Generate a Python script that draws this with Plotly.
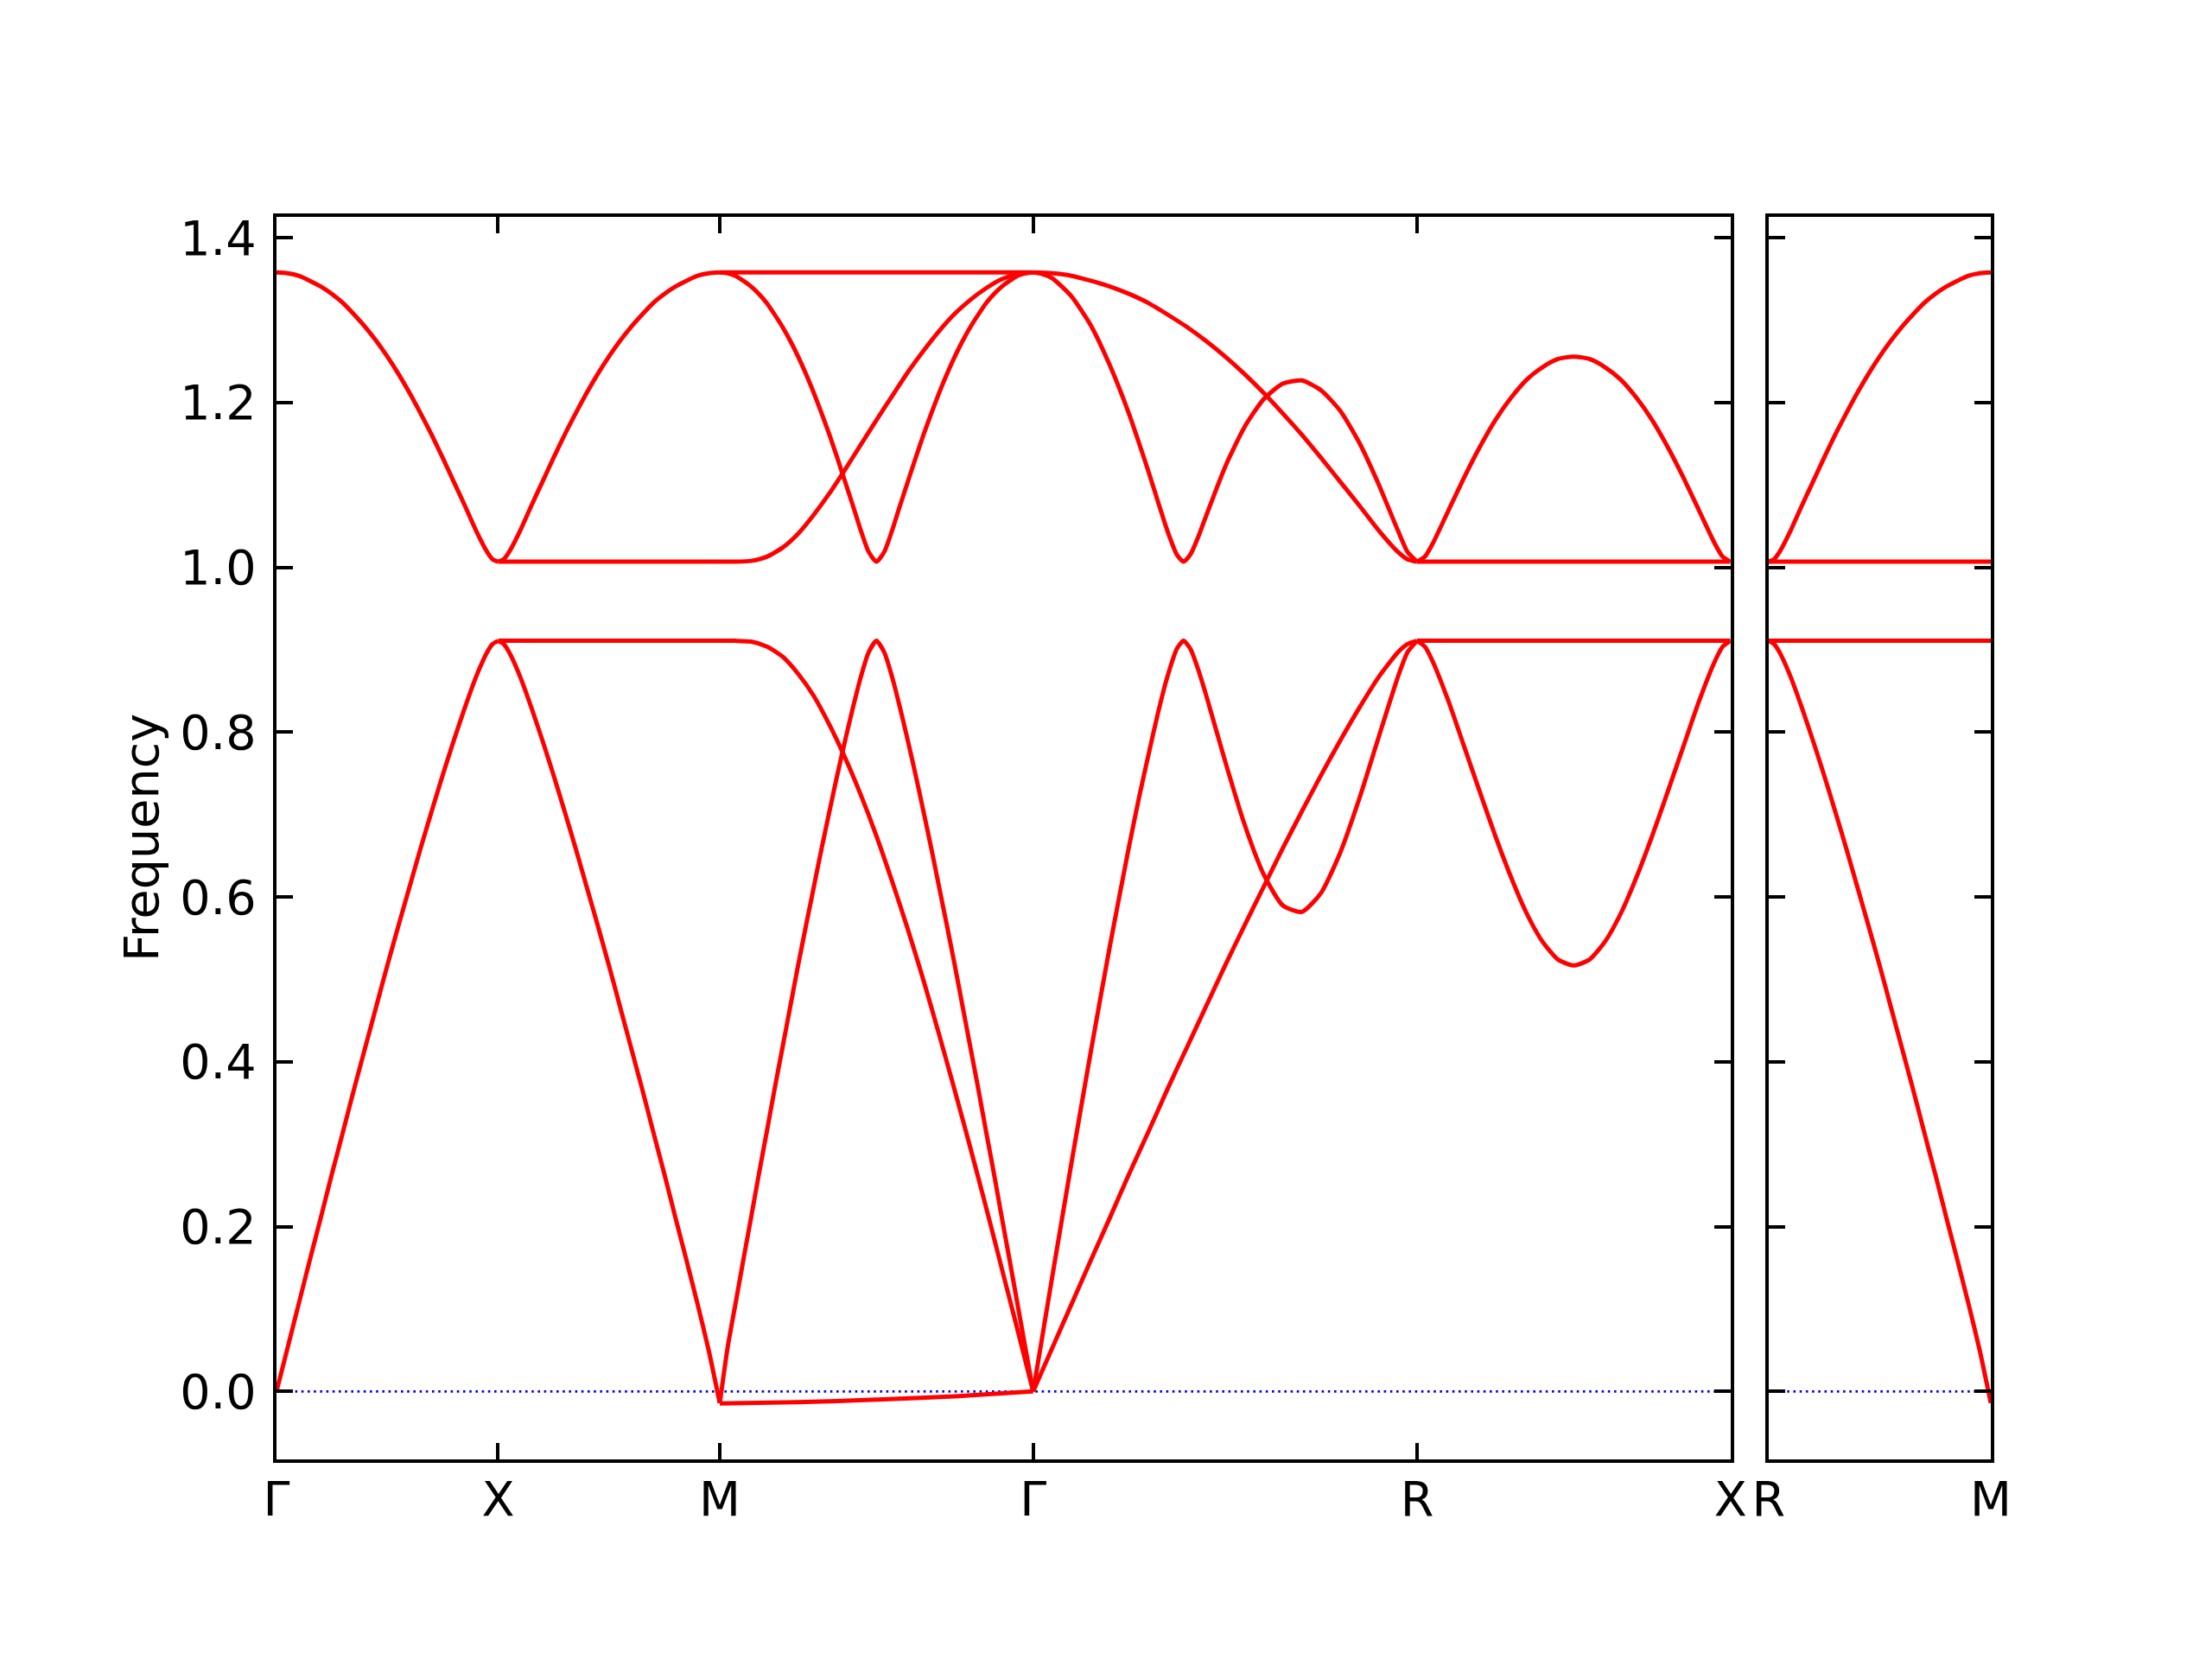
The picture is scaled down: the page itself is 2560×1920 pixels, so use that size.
import plotly.graph_objects as go

# ---------------- axis data ----------------
TICKS_LEFT = [0.0, 1.0, 2.0, 3.41421, 5.14626, 6.56048]
LABELS_LEFT = ["Γ", "X", "M", "Γ", "R", "X"]
TICKS_RIGHT = [0.0, 1.0]
LABELS_RIGHT = ["R", "M"]
Y_TICKS = [0.0, 0.2, 0.4, 0.6, 0.8, 1.0, 1.2, 1.4]
Y_RANGE = [-0.0825, 1.4255]

# ---------------- band data (fraction along segment -> frequency) ----------------
FLAT_FRAC = [0.0, 1.0]

# Γ–X (3-fold degenerate)
GX_FRAC = [0, .05, .1, .15, .2, .25, .3, .35, .4, .45, .5, .55, .6, .65, .7, .75, .8, .85, .9, .95, .975, 1.0]
GX_LOW = [0, .053, .106, .159, .211, .264, .315, .367, .417, .467, .517, .565, .612, .659, .704, .748, .790, .830, .867, .897, .907, .911]
GX_HIGH = [1.358, 1.357, 1.354, 1.348, 1.341, 1.332, 1.321, 1.307, 1.292, 1.275, 1.256, 1.235, 1.212, 1.187, 1.161, 1.133, 1.104, 1.075, 1.045, 1.019, 1.010, 1.007]

# X–M
XM_FRAC = [0, .025, .05, .1, .15, .2, .25, .3, .35, .4, .45, .5, .55, .6, .65, .7, .75, .8, .85, .9, .95, 1.0]
XM_LOW = [.911, .907, .897, .867, .830, .790, .748, .704, .659, .612, .565, .517, .467, .417, .367, .315, .264, .211, .159, .106, .050, -0.014]
XM_HIGH = [1.007, 1.010, 1.019, 1.045, 1.075, 1.104, 1.133, 1.161, 1.187, 1.212, 1.235, 1.256, 1.275, 1.292, 1.307, 1.321, 1.332, 1.341, 1.348, 1.354, 1.357, 1.358]
XM_FLAT_LOW = [0.911, 0.911]
XM_FLAT_HIGH = [1.007, 1.007]

# M–Γ
MG_Q_FRAC = [0, .025, .05, .075, .1, .125, .15, .175, .2, .225, .25, .275, .3, .325, .35, .375, .4, .425, .45, .475, .5,
             .525, .55, .575, .6, .625, .65, .675, .7, .725, .75, .775, .8, .825, .85, .875, .9, .925, .95, .975, 1.0]
MG_Q_LOW = [-0.0145, .053, .106, .159, .211, .264, .315, .367, .417, .467, .517, .565, .612, .659, .704, .748, .790, .830, .867, .897, .911,
            .897, .867, .830, .790, .748, .704, .659, .612, .565, .517, .467, .417, .367, .315, .264, .211, .159, .106, .053, 0.0]
MG_Q_HIGH = [1.358, 1.357, 1.354, 1.348, 1.341, 1.332, 1.321, 1.307, 1.292, 1.275, 1.256, 1.235, 1.212, 1.187, 1.161, 1.133, 1.104, 1.075, 1.045, 1.019, 1.007,
             1.019, 1.045, 1.075, 1.104, 1.133, 1.161, 1.187, 1.212, 1.235, 1.256, 1.275, 1.292, 1.307, 1.321, 1.332, 1.341, 1.348, 1.354, 1.357, 1.358]
MG_R_FRAC = [0, .05, .1, .15, .2, .25, .3, .35, .4, .45, .5, .55, .6, .65, .7, .75, .8, .85, .9, .95, 1.0]
MG_R_LOW = [.911, .911, .910, .904, .892, .871, .844, .809, .769, .724, .674, .619, .561, .499, .433, .365, .295, .223, .149, .075, 0.0]
MG_R_HIGH = [1.007, 1.007, 1.008, 1.013, 1.024, 1.041, 1.064, 1.090, 1.119, 1.149, 1.179, 1.208, 1.237, 1.263, 1.287, 1.308, 1.325, 1.339, 1.350, 1.356, 1.358]
MG_FLAT_FRAC = [0, .25, .5, .75, 1.0]
MG_FLAT_LOW = [-0.0145, -0.013, -0.010, -0.006, 0.0]
MG_FLAT_HIGH = [1.358, 1.358, 1.358, 1.358, 1.358]

# Γ–R
GR_FRAC_1 = [0, .025, .05, .1, .15, .2, .25, .275, .3, .325, .35, .375, .3918, .41, .43, .45, .5, .55, .6, .65, .7, .75, .8, .85, .9, .95, .975, 1.0]
GR_LOW_1 = [0, .070, .140, .278, .412, .541, .662, .719, .772, .823, .868, .902, .911, .901, .876, .846, .765, .689, .628, .590, .582, .605, .654, .720, .794, .867, .897, .911]
GR_HIGH_1 = [1.358, 1.356, 1.351, 1.329, 1.294, 1.245, 1.186, 1.152, 1.117, 1.080, 1.044, 1.015, 1.007, 1.016, 1.037, 1.062, 1.122, 1.170, 1.204, 1.223, 1.227, 1.215, 1.190, 1.151, 1.101, 1.045, 1.019, 1.007]
GR_FRAC_2 = [0, .05, .1, .15, .2, .25, .3, .35, .4, .45, .5, .55, .6, .65, .7, .75, .8, .85, .9, .95, .975, 1.0]
GR_LOW_2 = [0, .053, .106, .159, .211, .264, .315, .367, .417, .467, .517, .565, .612, .659, .704, .748, .790, .830, .867, .897, .907, .911]
GR_HIGH_2 = [1.358, 1.357, 1.354, 1.348, 1.341, 1.332, 1.321, 1.307, 1.292, 1.275, 1.256, 1.235, 1.212, 1.187, 1.161, 1.133, 1.104, 1.075, 1.045, 1.019, 1.010, 1.007]

# R–X
RX_FRAC = [0, .025, .05, .1, .15, .2, .25, .3, .35, .4, .45, .5, .55, .6, .65, .7, .75, .8, .85, .9, .95, .975, 1.0]
RX_LOW = [.911, .904, .886, .838, .783, .728, .674, .624, .580, .546, .524, .517, .524, .546, .580, .624, .674, .728, .783, .838, .886, .904, .911]
RX_HIGH = [1.007, 1.013, 1.029, 1.069, 1.109, 1.146, 1.179, 1.206, 1.228, 1.243, 1.253, 1.256, 1.253, 1.243, 1.228, 1.206, 1.179, 1.146, 1.109, 1.069, 1.029, 1.013, 1.007]
RX_FLAT_LOW = [0.911, 0.911]
RX_FLAT_HIGH = [1.007, 1.007]

# R–M (right panel)
RM_FRAC = [0, .025, .05, .1, .15, .2, .25, .3, .35, .4, .45, .5, .55, .6, .65, .7, .75, .8, .85, .9, .95, 1.0]
RM_LOW = [.911, .907, .897, .867, .830, .790, .748, .704, .659, .612, .565, .517, .467, .417, .367, .315, .264, .211, .159, .106, .050, -0.014]
RM_HIGH = [1.007, 1.010, 1.019, 1.045, 1.075, 1.104, 1.133, 1.161, 1.187, 1.212, 1.235, 1.256, 1.275, 1.292, 1.307, 1.321, 1.332, 1.341, 1.348, 1.354, 1.357, 1.358]
RM_FLAT_LOW = [0.911, 0.911]
RM_FLAT_HIGH = [1.007, 1.007]

# segment -> list of (fractions, values)
LEFT_BANDS = [
    (0, [(GX_FRAC, GX_LOW), (GX_FRAC, GX_HIGH)]),
    (1, [(XM_FRAC, XM_LOW), (XM_FRAC, XM_HIGH), (FLAT_FRAC, XM_FLAT_LOW), (FLAT_FRAC, XM_FLAT_HIGH)]),
    (2, [(MG_Q_FRAC, MG_Q_LOW), (MG_Q_FRAC, MG_Q_HIGH), (MG_R_FRAC, MG_R_LOW), (MG_R_FRAC, MG_R_HIGH),
         (MG_FLAT_FRAC, MG_FLAT_LOW), (MG_FLAT_FRAC, MG_FLAT_HIGH)]),
    (3, [(GR_FRAC_1, GR_LOW_1), (GR_FRAC_1, GR_HIGH_1), (GR_FRAC_2, GR_LOW_2), (GR_FRAC_2, GR_HIGH_2)]),
    (4, [(RX_FRAC, RX_LOW), (RX_FRAC, RX_HIGH), (FLAT_FRAC, RX_FLAT_LOW), (FLAT_FRAC, RX_FLAT_HIGH)]),
]
RIGHT_BANDS = [
    (0, [(RM_FRAC, RM_LOW), (RM_FRAC, RM_HIGH), (FLAT_FRAC, RM_FLAT_LOW), (FLAT_FRAC, RM_FLAT_HIGH)]),
]

# ---------------- styling ----------------
FONT = "DejaVu Sans"
FS = 55.6
RED_W = 5.0
AX_W = 4.4
TICK_LEN = 19
# page body has an 8px margin; size the figure so the plot area lands where the reference has it
W, H = 2552, 1912
ML, MR, MT, MB = 312, 256, 243, 231
PLOT_W = W - ML - MR
PAGE_OFF = 8

fig = go.Figure()


def seg_positions(ticks, i, fracs):
    a, b = ticks[i], ticks[i + 1]
    return [a + f * (b - a) for f in fracs]


# zero reference lines (blue dotted)
fig.add_trace(go.Scatter(x=[TICKS_LEFT[0], TICKS_LEFT[-1]], y=[0, 0], mode="lines",
                         line=dict(color="blue", width=2.6, dash="2.6px,4.6px"),
                         xaxis="x", yaxis="y", hoverinfo="skip", showlegend=False))
fig.add_trace(go.Scatter(x=[TICKS_RIGHT[0], TICKS_RIGHT[-1]], y=[0, 0], mode="lines",
                         line=dict(color="blue", width=2.6, dash="2.6px,4.6px"),
                         xaxis="x2", yaxis="y2", hoverinfo="skip", showlegend=False))

for ticks, bands, xa, ya in [(TICKS_LEFT, LEFT_BANDS, "x", "y"), (TICKS_RIGHT, RIGHT_BANDS, "x2", "y2")]:
    for seg, curves in bands:
        for fracs, vals in curves:
            fig.add_trace(go.Scatter(
                x=seg_positions(ticks, seg, fracs), y=vals, mode="lines",
                line=dict(color="#ff0000", width=RED_W, shape="spline", smoothing=0.6),
                xaxis=xa, yaxis=ya, hoverinfo="skip", showlegend=False))

axis_common = dict(
    showgrid=False, zeroline=False, showline=True, linecolor="black", linewidth=AX_W,
    mirror="ticks", ticks="inside", ticklen=TICK_LEN, tickwidth=AX_W, tickcolor="black",
    tickfont=dict(family=FONT, size=FS, color="black"),
)

left_frac = (2002.7 - PAGE_OFF - ML) / PLOT_W
right_start = (2046.7 - PAGE_OFF - ML) / PLOT_W

fig.update_layout(
    width=W, height=H,
    margin=dict(l=ML, r=MR, t=MT, b=MB),
    paper_bgcolor="white", plot_bgcolor="white",
    showlegend=False,
    xaxis=dict(domain=[0, left_frac], range=[TICKS_LEFT[0], TICKS_LEFT[-1]],
               tickmode="array", tickvals=TICKS_LEFT, ticktext=LABELS_LEFT,
               anchor="y", ticklabelstandoff=-6, **axis_common),
    yaxis=dict(domain=[0, 1], range=Y_RANGE, tickmode="array", tickvals=Y_TICKS,
               ticktext=[f"{v:.1f}" for v in Y_TICKS], anchor="x",
               ticklabelstandoff=8, **axis_common),
    xaxis2=dict(domain=[right_start, 1], range=[TICKS_RIGHT[0], TICKS_RIGHT[-1]],
                tickmode="array", tickvals=TICKS_RIGHT, ticktext=LABELS_RIGHT,
                anchor="y2", ticklabelstandoff=-6, **axis_common),
    yaxis2=dict(domain=[0, 1], range=Y_RANGE, tickmode="array", tickvals=Y_TICKS,
                showticklabels=False, anchor="x2", **axis_common),
    annotations=[dict(text="Frequency", textangle=-90, xref="paper", yref="paper",
                      x=(163 - PAGE_OFF - ML) / PLOT_W, y=0.5, xanchor="center", yanchor="middle",
                      showarrow=False, font=dict(family=FONT, size=FS, color="black"))],
)

fig.write_html("out.html")
